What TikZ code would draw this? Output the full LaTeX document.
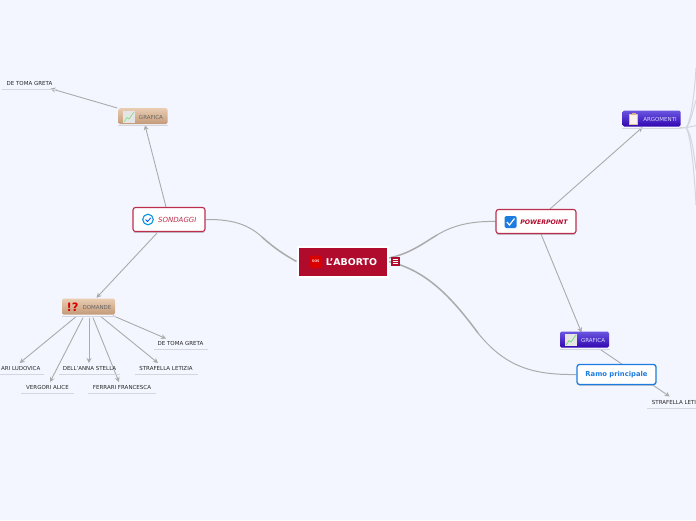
\documentclass[tikz,border=0pt]{standalone}
\usepackage{fontspec}
\setmainfont{DejaVu Sans}
\usetikzlibrary{arrows.meta,calc}
\definecolor{bgc}{HTML}{F4F6FF}
\definecolor{crimson}{HTML}{B00A2C}
\definecolor{linec}{HTML}{ABABAB}
\definecolor{underc}{HTML}{D3D6DE}
\definecolor{shadowc}{HTML}{C4C6D0}
\definecolor{tanT}{HTML}{E9CDB3}
\definecolor{tanB}{HTML}{C49A78}
\definecolor{purT}{HTML}{6A55E0}
\definecolor{purB}{HTML}{3205B0}
\definecolor{blueb}{HTML}{1C7CE0}
\pgfdeclarelayer{back}
\pgfdeclarelayer{conn}
\pgfsetlayers{back,conn,main}
\tikzset{
 x=1pt,y=-1pt,
 arr/.style={draw=linec,line width=.9pt,-{Stealth[length=5pt,width=5pt]}},
 branch/.style={draw=linec,line width=1pt},
 branchthick/.style={draw=linec,line width=1.5pt},
 fan/.style={draw=underc,line width=1pt},
 leaf/.style={font=\fontsize{5.5}{6}\selectfont,text=black!85,inner sep=0pt},
 under/.style={draw=underc,line width=.8pt},
 redbox/.style={draw=crimson!85,line width=1.1pt,fill=white,rounded corners=2.5pt,minimum height=24pt,inner sep=0pt},
 tanbox/.style={rounded corners=1.5pt,top color=tanT,bottom color=tanB,minimum height=16pt,inner sep=0pt},
 purbox/.style={rounded corners=1.5pt,top color=purT,bottom color=purB,minimum height=16pt,inner sep=0pt},
 small/.style={font=\fontsize{5.5}{6}\selectfont,inner sep=0pt},
}
\begin{document}
\begin{tikzpicture}
\useasboundingbox (0,0) rectangle (696,520);
\begin{pgfonlayer}{back}
\fill[bgc] (0,0) rectangle (696,520);
\draw[shadowc,line width=1.2pt] (134,232.6) -- (204,232.6);
\draw[shadowc,line width=1.2pt] (497,234.6) -- (575,234.6);
\draw[shadowc,line width=1.2pt] (579,385.6) -- (654,385.6);
\end{pgfonlayer}
% nodes
\node[fill=crimson,draw=white,line width=2pt,minimum width=90pt,minimum height=30pt,inner sep=0pt] (root) at (342.5,261.5) {};
\node[redbox,minimum width=72pt] (sond) at (169,219.5) {};
\node[redbox,minimum width=80pt] (pow) at (536,221.5) {};
\node[draw=blueb,line width=1.3pt,fill=white,rounded corners=2.5pt,minimum width=79pt,minimum height=20pt,inner sep=0pt] (ramo) at (616.5,374.5) {};
\node[tanbox,minimum width=49pt] (grafS) at (143,116) {};
\node[tanbox,minimum width=53pt] (dom) at (88.5,306.5) {};
\node[purbox,minimum width=58pt] (arg) at (651.5,118.5) {};
\node[purbox,minimum width=49pt] (grafP) at (584.5,339.7) {};
% under-shadows
\draw[under] (118,125.5) -- (168,125.5);
\draw[under] (62,316) -- (116,316);
\draw[under] (622,128) -- (681,128);
\draw[under] (560,349) -- (610,349);
% leaves
\node[leaf] (l0) at (29.5,83.3) {DE TOMA GRETA};
\draw[under] (2,89.5) -- (57,89.5);
\node[leaf] (l1) at (180.5,343.3) {DE TOMA GRETA};
\draw[under] (154,349.5) -- (208,349.5);
\node[leaf] (l2) at (166,368.3) {STRAFELLA LETIZIA};
\draw[under] (135,374.5) -- (198,374.5);
\node[leaf] (l3) at (89.5,368.3) {DELL'ANNA STELLA};
\draw[under] (59,374.5) -- (120,374.5);
\node[leaf,anchor=east] (l4) at (40.5,368.3) {ARI LUDOVICA};
\draw[under] (0,374.5) -- (44,374.5);
\node[leaf] (l5) at (47.5,387.3) {VERGORI ALICE};
\draw[under] (21,393.5) -- (74,393.5);
\node[leaf] (l6) at (122,387.3) {FERRARI FRANCESCA};
\draw[under] (88,393.5) -- (156,393.5);
\node[leaf,anchor=west] (l7) at (651.7,402.3) {STRAFELLA LETI};
\draw[under] (647,408.5) -- (696,408.5);
% connectors
\begin{pgfonlayer}{conn}
\coordinate (fo) at (686,127.7);
\coordinate (f1) at (696,68);
\coordinate (f6) at (696,100);
\coordinate (f2) at (696,125.7);
\coordinate (f4) at (696,170);
\coordinate (f5) at (696,205);
\coordinate (m1) at (262,237);
\coordinate (m2) at (437,235);
\coordinate (m3) at (478,333);
\draw[fan,line width=1.4pt] ($(arg.south east)+(-1,1.2)$) -- (fo);
\draw[fan] (fo) .. controls (690,124) and (694,100) .. (f1);
\draw[fan] (fo) .. controls (690,125) and (693,110) .. (f6);
\draw[fan] (fo) .. controls (690,127) and (693,126) .. (f2);
\draw[fan] (fo) .. controls (690,131) and (693,145) .. (f4);
\draw[fan] (fo) .. controls (690,133) and (694,165) .. (f5);
\draw[branch] (sond.east) .. controls (235,219) and (250,226) .. (m1);
\draw[branchthick] (m1) .. controls (273,247) and (283,254) .. (root.west);
\draw[branchthick] (root.east) ++(0,-3.5) coordinate (rp) .. controls (410,254) and (425,242) .. (m2);
\draw[branch] (m2) .. controls (455,224) and (475,221) .. (pow.west);
\draw[branchthick] (root.east) .. controls (425,270) and (450,295) .. (m3);
\draw[branch] (m3) .. controls (506,368) and (535,375) .. (ramo.west);
\draw[arr] ($(sond.north)+(-3,0)$) -- ($(grafS.south)+(2,1)$);
\draw[arr] ($(grafS.west)+(-1,-8)$) -- ($(l0.south east)+(-2,3)$);
\draw[arr] ($(sond.south)+(-12,1)$) -- ($(dom.north)+(8,-.5)$);
\draw[arr] ($(pow.north)+(14,0)$) -- ($(arg.south)+(-9,.5)$);
\draw[arr] ($(pow.south)+(5,0)$) -- ($(grafP.north)+(-3,1)$);
\draw[arr] ($(grafP.south)+(15,1)$) -- ($(l7.north west)+(18,-3.5)$);
\draw[arr] ($(dom.south)+(-12.5,2)$) -- ($(l4.north)+(-1,-3)$);
\draw[arr] ($(dom.south)+(-5.5,3)$) -- ($(l5.north)+(2.5,-3)$);
\draw[arr] ($(dom.south)+(.5,3)$) -- ($(l3.north)+(-.5,-3)$);
\draw[arr] ($(dom.south)+(4.5,3)$) -- ($(l6.north)+(-3,-3)$);
\draw[arr] ($(dom.south)+(12.5,2)$) -- ($(l2.north)+(-8,-3)$);
\draw[arr] ($(dom.south)+(24.5,1)$) -- ($(l1.north)+(-14.5,-2.5)$);
\end{pgfonlayer}
% texts
\node[font=\bfseries\fontsize{9.4}{10}\selectfont,text=white,inner sep=0pt] (t0) at (351.5,262) {L'ABORTO};
\node[font=\itshape\fontsize{7}{8}\selectfont,text=crimson!85,inner sep=0pt] (t1) at (177.3,219.5) {SONDAGGI};
\node[font=\bfseries\itshape\fontsize{6.2}{8}\selectfont,text=crimson,inner sep=0pt] (t2) at (544,222) {POWERPOINT};
\node[font=\bfseries\fontsize{6.8}{8}\selectfont,text=blueb,inner sep=0pt] (t3) at (616.5,374.8) {Ramo principale};
\node[small,text=black!60] (t4) at (151,117.3) {GRAFICA};
\node[small,text=black!60] (t5) at (97,307.3) {DOMANDE};
\node[small,text=white!85!blue] (t6) at (660,119.3) {ARGOMENTI};
\node[small,text=white!85!blue] (t7) at (593,340.3) {GRAFICA};
% icons
\fill[red!85!black,rounded corners=2pt] (309.5,255.5) rectangle (322,268);
\node[font=\bfseries\fontsize{3.4}{4}\selectfont,text=white!80!red,inner sep=0pt] (ic0) at (315.7,261.7) {SOS};
\fill[crimson] (391,257) rectangle (399.5,265.5);
\draw[white,line width=.7pt] (392.5,259) -- (398,259) (392.5,261.2) -- (398,261.2) (392.5,263.4) -- (398,263.4);
% check circle
\draw[draw=cyan!80!blue,line width=1.1pt,fill=white] (148,219.5) circle (5.3);
\draw[blue!70!cyan,line width=.8pt] (145.6,219.5) -- (147.5,221.6) -- (150.8,217.8);
% checkbox
\fill[blueb,rounded corners=1.5pt] (504.5,216) rectangle (516.5,228);
\draw[white,line width=1.2pt] (506.8,222) -- (509.5,225) -- (514.5,218.5);
% chart icons
\fill[black!10!white] (123,111) rectangle (135,123);
\draw[green!60!gray!60,line width=.7pt] (124,122) -- (127,117.5) -- (129,119) -- (134,112);
\fill[black!10!white] (565,334) rectangle (577,346);
\draw[green!60!gray!70,line width=.7pt] (566,345) -- (569,340.5) -- (571,342) -- (576,335);
% clipboard
\fill[white!90!brown,draw=brown!50,line width=.4pt] (629.5,114) rectangle (637.5,124.5);
\fill[brown!60] (631.5,113) rectangle (635.5,115);
% !?
\node[font=\bfseries\fontsize{11.5}{12}\selectfont,text=red!85!black,inner sep=0pt] (ic1) at (72.7,307) {!?};
\end{tikzpicture}
\end{document}
